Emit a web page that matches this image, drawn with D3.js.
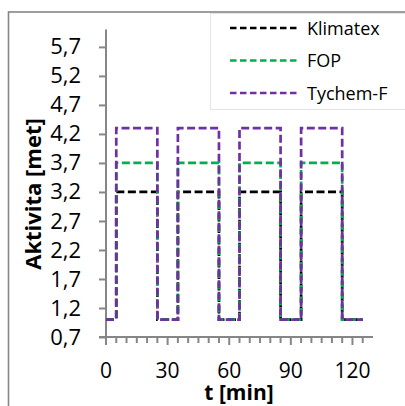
<!DOCTYPE html>
<html>
<head>
<meta charset="utf-8">
<script src="https://cdn.jsdelivr.net/npm/d3@7"></script>
<style>
  body { margin: 0; background: #fff; }
  text { font-family: "Open Sans", sans-serif; fill: #000; }
</style>
</head>
<body>
<div class="chart"></div>
<script>
var times    = [0, 5, 5, 25, 25, 35, 35, 55, 55, 65, 65, 85, 85, 95, 95, 115, 115, 125];
var klimatex = [1, 1, 3.2, 3.2, 1, 1, 3.2, 3.2, 1, 1, 3.2, 3.2, 1, 1, 3.2, 3.2, 1, 1];
var fop      = [1, 1, 3.7, 3.7, 1, 1, 3.7, 3.7, 1, 1, 3.7, 3.7, 1, 1, 3.7, 3.7, 1, 1];
var tychem   = [1, 1, 4.3, 4.3, 1, 1, 4.3, 4.3, 1, 1, 4.3, 4.3, 1, 1, 4.3, 4.3, 1, 1];
var seriesNames = ["Klimatex", "FOP", "Tychem-F"];
var yTicks = [0.7, 1.2, 1.7, 2.2, 2.7, 3.2, 3.7, 4.2, 4.7, 5.2, 5.7];
var xLabels = [0, 30, 60, 90, 120];

var w = 405;
var h = 406;
var colors = ["#000000", "#00b050", "#7030a0"];

var svg = d3.select(".chart")
            .append("svg")
            .attr("width", w)
            .attr("height", h);

// chart area border
svg.append("rect")
   .attr("x", 8.5).attr("y", 12)
   .attr("width", 420).attr("height", 420)
   .attr("fill", "#fff")
   .attr("stroke", "#868686")
   .attr("stroke-width", 1.6);

var x = d3.scaleLinear().domain([0, 130]).range([106, 373]);
var y = d3.scaleLinear().domain([0.7, 6.0]).range([337, 29.5]);

// y axis
var yAxis = d3.axisLeft(y)
              .tickValues(yTicks)
              .tickSize(7)
              .tickPadding(18)
              .tickFormat(function(d) { return d3.format(".1f")(d).replace(".", ","); });

var gy = svg.append("g")
            .attr("transform", "translate(" + x(0) + ",0)")
            .call(yAxis);
gy.select(".domain").remove();
gy.selectAll(".tick line").attr("stroke", "#868686").attr("stroke-width", 2);
gy.selectAll("text")
  .attr("font-size", "22px")
  .attr("font-family", "Open Sans, sans-serif")
  .attr("fill", "#000");

// x axis ticks
var xTicks = d3.range(0, 126, 5);
svg.selectAll(".xtick")
   .data(xTicks)
   .enter()
   .append("line")
   .attr("class", "xtick")
   .attr("x1", function(d) { return x(d); })
   .attr("x2", function(d) { return x(d); })
   .attr("y1", y(0.7))
   .attr("y2", function(d) { return y(0.7) + (d % 30 === 0 ? 8 : 6); })
   .attr("stroke", "#868686")
   .attr("stroke-width", 2);

// axis lines
svg.append("line")
   .attr("x1", x(0)).attr("x2", x(0))
   .attr("y1", y(6.0)).attr("y2", y(0.7) + 8)
   .attr("stroke", "#868686").attr("stroke-width", 2);
svg.append("line")
   .attr("x1", x(0) - 7).attr("x2", x(130))
   .attr("y1", y(0.7)).attr("y2", y(0.7))
   .attr("stroke", "#868686").attr("stroke-width", 2);

svg.selectAll(".xlabel")
   .data(xLabels)
   .enter()
   .append("text")
   .attr("class", "xlabel")
   .attr("x", function(d) { return x(d); })
   .attr("y", 378)
   .attr("text-anchor", "middle")
   .attr("font-size", "21px")
   .text(function(d) { return d; });

// axis titles
svg.append("text")
   .attr("transform", "translate(41,194) rotate(-90)")
   .attr("text-anchor", "middle")
   .attr("font-size", "22px")
   .attr("font-weight", "bold")
   .text("Aktivita [met]");

svg.append("text")
   .attr("x", 239)
   .attr("y", 400)
   .attr("text-anchor", "middle")
   .attr("font-size", "21px")
   .attr("font-weight", "bold")
   .text("t [min]");

// series
var seriesData = [klimatex, fop, tychem];
var line = d3.line()
             .x(function(d) { return x(d[0]); })
             .y(function(d) { return y(d[1]); });

seriesData.forEach(function(vals, i) {
  svg.append("path")
     .datum(times.map(function(t, j) { return [t, vals[j]]; }))
     .attr("d", line)
     .attr("fill", "none")
     .attr("stroke", colors[i])
     .attr("stroke-width", 2.7)
     .attr("stroke-dasharray", "8,3.5");
});

// legend
svg.append("rect")
   .attr("x", 210.5).attr("y", 13.5)
   .attr("width", 200).attr("height", 96)
   .attr("fill", "#fff")
   .attr("stroke", "#e4e4e4")
   .attr("stroke-width", 1);

var legend = svg.selectAll(".legend")
                .data(seriesNames)
                .enter()
                .append("g")
                .attr("class", "legend")
                .attr("transform", function(d, i) { return "translate(0," + (28 + i * 32.5) + ")"; });

legend.append("line")
      .attr("x1", 230).attr("x2", 299)
      .attr("y1", 0).attr("y2", 0)
      .attr("stroke", function(d, i) { return colors[i]; })
      .attr("stroke-width", 2.5)
      .attr("stroke-dasharray", "6.5,3.5");

legend.append("text")
      .attr("x", 307)
      .attr("y", 6.5)
      .attr("font-size", "18px")
      .text(function(d) { return d; });
</script>
</body>
</html>
